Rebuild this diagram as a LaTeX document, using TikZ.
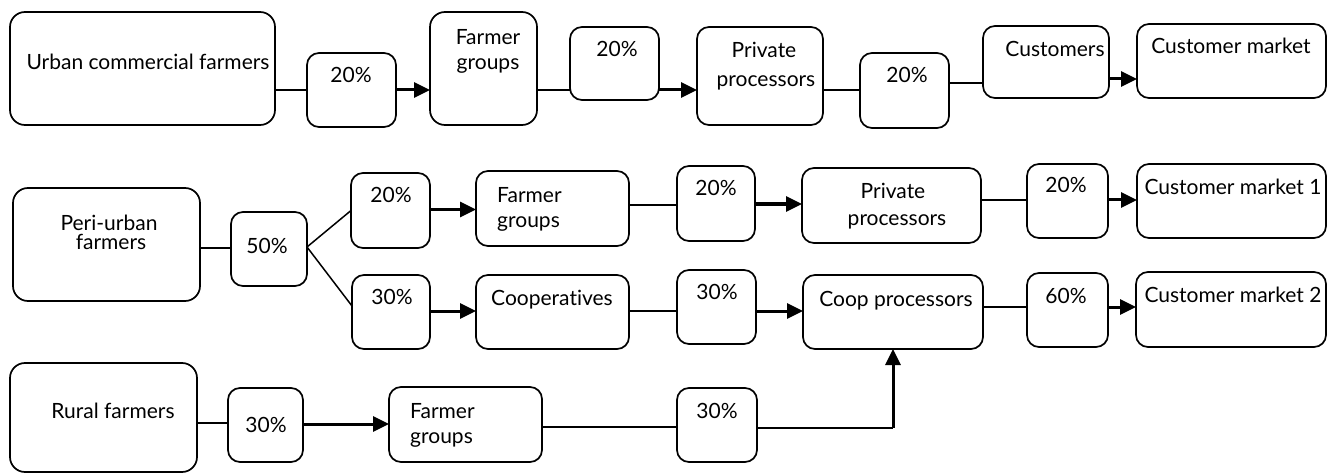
\documentclass[tikz,border=0pt]{standalone}
\usepackage{fontspec}
\setmainfont{Lato}[Ligatures={NoCommon,NoRare}]
\usetikzlibrary{arrows.meta}
\newcommand\bx[6]{%
  \pgfmathsetmacro\bxcx{(#3+#5)/2}\pgfmathsetmacro\bxcy{(#4+#6)/2}%
  \pgfmathsetmacro\bxw{#5-#3}\pgfmathsetmacro\bxh{#6-#4}%
  \node[#1, minimum width=\bxw pt, minimum height=\bxh pt] (#2) at (\bxcx,\bxcy) {};}
\newcommand\conn[4]{\draw[#1] ([yshift=#4pt]#2.east) -- ([yshift=#4pt]#2.east -| #3.west);}
\begin{document}
\begin{tikzpicture}[x=1pt,y=-1pt,
  box/.style={draw, line width=1.7pt, rounded corners=12pt, inner sep=0pt, outer sep=0pt},
  bigbox/.style={box, rounded corners=15pt},
  txt/.style={inner sep=0pt, anchor=base, font=\fontsize{21}{24}\selectfont},
  txtl/.style={txt, anchor=base west},
  plain/.style={line width=1.5pt},
  arr/.style={line width=3pt, -{Triangle[length=16pt,width=15pt]}}]
\useasboundingbox (0,0) rectangle (1335,473);
% boxes
\bx{bigbox}{urban}{10}{12}{275}{125}
\bx{box}{p1a}{307}{53}{396}{127}
\bx{bigbox}{fg1}{430}{12}{537}{125}
\bx{box}{p1b}{570}{27}{659}{100}
\bx{box}{pp1}{697}{27}{823}{125}
\bx{box}{p1c}{860}{53}{949}{128}
\bx{box}{cust}{983}{26}{1109}{98}
\bx{box}{cm}{1137}{24}{1326}{98}
\bx{bigbox}{peri}{13}{188}{200}{301}
\bx{box}{p50}{231}{212}{307}{286}
\bx{box}{p2a}{351}{173}{430}{248}
\bx{box}{p3a}{352}{275}{430}{349}
\bx{box}{fg2}{476}{171}{629}{246}
\bx{box}{p2b}{677}{166}{755}{241}
\bx{box}{pp2}{802}{168}{981}{243}
\bx{box}{p2c}{1027}{164}{1108}{238}
\bx{box}{cm1}{1137}{164}{1326}{238}
\bx{box}{coop}{476}{275}{629}{349}
\bx{box}{p3b}{677}{270}{756}{344}
\bx{box}{cpp}{803}{275}{983}{349}
\bx{box}{p3c}{1027}{273}{1108}{347}
\bx{box}{cm2}{1136}{272}{1326}{347}
\bx{bigbox}{rural}{10}{363}{197}{472}
\bx{box}{p4a}{228}{388}{303}{462}
\bx{box}{fg4}{389}{387}{542}{462}
\bx{box}{p4b}{677}{388}{757}{462}
% texts
\node[txt] (t1) at (148,70) {Urban commercial farmers};
\node[txt] (t2) at (351,83) {20\%};
\node[txt] (t3) at (488,45) {Farmer};
\node[txt] (t4) at (488,70) {groups};
\node[txt] (t5) at (617,57) {20\%};
\node[txt] (t6) at (764,58) {Private};
\node[txt] (t7) at (766,87) {processors};
\node[txt] (t8) at (907,83) {20\%};
\node[txt] (t9) at (1055,57) {Customers};
\node[txt] (t10) at (1231,54) {Customer market};
\node[txt] (t11) at (109,230) {Peri-urban};
\node[txt] (t12) at (111,249) {farmers};
\node[txt] (t13) at (267,253) {50\%};
\node[txt] (t14) at (391,203) {20\%};
\node[txt] (t15) at (392,304) {30\%};
\node[txtl] (t16) at (497,202) {Farmer};
\node[txtl] (t17) at (497,227) {groups};
\node[txt] (t18) at (716,196) {20\%};
\node[txt] (t19) at (893,199) {Private};
\node[txt] (t20) at (897,225) {processors};
\node[txt] (t21) at (1066,193) {20\%};
\node[txt] (t22) at (1233,194) {Customer market 1};
\node[txt] (t23) at (552,305) {Cooperatives};
\node[txt] (t24) at (717,299) {30\%};
\node[txt] (t25) at (896,306) {Coop processors};
\node[txt] (t26) at (1066,303) {60\%};
\node[txt] (t27) at (1233,302) {Customer market 2};
\node[txt] (t28) at (113,418) {Rural farmers};
\node[txt] (t29) at (266,432) {30\%};
\node[txtl] (t30) at (410,418) {Farmer};
\node[txtl] (t31) at (410,443) {groups};
\node[txt] (t32) at (717,418) {30\%};
% connectors
\conn{plain}{urban}{p1a}{-21.5}
\conn{arr}{p1a}{fg1}{0}
\conn{plain}{fg1}{p1b}{-21.5}
\conn{arr}{p1b}{pp1}{-26.5}
\conn{plain}{pp1}{p1c}{-14}
\conn{plain}{p1c}{cust}{7.5}
\conn{arr}{cust}{cm}{-17}
\conn{plain}{peri}{p50}{-3.5}
\draw[plain] ([yshift=2pt]p50.east) -- (p2a.west);
\draw[plain] ([yshift=2pt]p50.east) -- ([yshift=6pt]p3a.west);
\conn{arr}{p2a}{fg2}{1}
\conn{plain}{fg2}{p2b}{3.5}
\conn{arr}{p2b}{pp2}{-0.5}
\conn{plain}{pp2}{p2c}{5.5}
\conn{arr}{p2c}{cm1}{1}
\conn{arr}{p3a}{coop}{1}
\conn{plain}{coop}{p3b}{1}
\conn{arr}{p3b}{cpp}{-4}
\conn{plain}{cpp}{p3c}{5}
\conn{arr}{p3c}{cm2}{3}
\conn{plain}{rural}{p4a}{-5.5}
\conn{arr}{p4a}{fg4}{1}
\conn{plain}{fg4}{p4b}{-2.5}
\draw[plain] ([yshift=-3pt]p4b.east) -- ([yshift=-3pt]p4b.east -| cpp.south);
\draw[arr] ([yshift=-3pt]p4b.east -| cpp.south) -- (cpp.south);
\end{tikzpicture}
\end{document}
